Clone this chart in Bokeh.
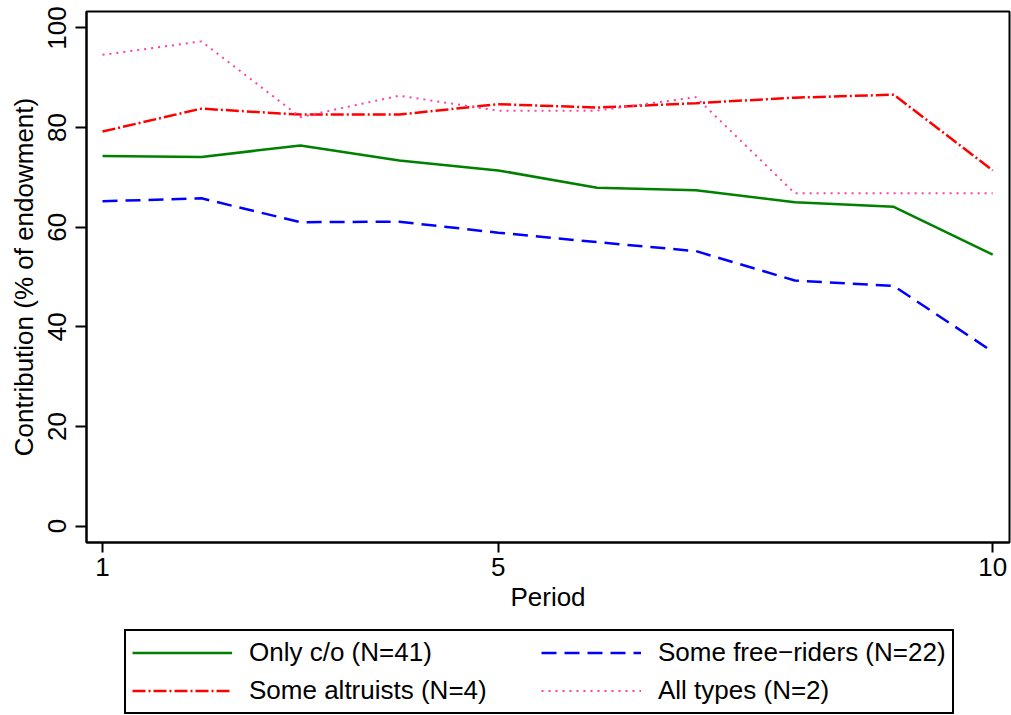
from bokeh.plotting import figure
from bokeh.layouts import column
from bokeh.models import Range1d, FixedTicker, Legend, LegendItem
from bokeh.embed import file_html
from bokeh.resources import INLINE

periods = [1, 2, 3, 4, 5, 6, 7, 8, 9, 10]
only_co = [74.3, 74.1, 76.4, 73.4, 71.4, 67.9, 67.4, 65.0, 64.1, 54.5]
free_riders = [65.2, 65.8, 61.0, 61.1, 58.9, 57.0, 55.2, 49.3, 48.2, 35.0]
altruists = [79.2, 83.8, 82.6, 82.6, 84.7, 84.0, 84.9, 86.0, 86.6, 71.4]
all_types = [94.6, 97.3, 82.1, 86.4, 83.4, 83.4, 86.1, 66.8, 66.8, 66.8]

labels = ["Only c/o (N=41)", "Some altruists (N=4)",
          "Some free\u2212riders (N=22)", "All types (N=2)"]
x_ticks = [1, 5, 10]
y_ticks = [0, 20, 40, 60, 80, 100]

FONT = "Liberation Sans"
FS = "26px"

styles = [
    dict(line_color="#008000", line_width=2.5),
    dict(line_color="#ff0000", line_width=2.5, line_dash="13 3 2 3"),
    dict(line_color="#0000ff", line_width=2.5, line_dash="15 8"),
    dict(line_color="#ff3fa0", line_width=2, line_dash="2 5"),
]
series = [only_co, altruists, free_riders, all_types]

p = figure(width=1011, height=620, output_backend="svg", toolbar_location=None,
           x_range=Range1d(0.838, 10.17), y_range=Range1d(-3.3, 103.3),
           min_border_left=86, min_border_right=2, min_border_top=11,
           min_border_bottom=78)

p.outline_line_color = "black"
p.outline_line_width = 2
p.xgrid.visible = False
p.ygrid.visible = False
p.background_fill_color = "white"
p.border_fill_color = "white"

for ys, st in zip(series, styles):
    p.line(periods, ys, **st)

for ax in (p.xaxis[0], p.yaxis[0]):
    ax.axis_line_color = "black"
    ax.axis_line_width = 2
    ax.major_tick_line_color = "black"
    ax.major_tick_line_width = 2
    ax.major_tick_in = 0
    ax.minor_tick_line_color = None
    ax.major_label_text_font = FONT
    ax.major_label_text_font_size = FS
    ax.major_label_text_color = "black"
    ax.axis_label_text_font = FONT
    ax.axis_label_text_font_size = FS
    ax.axis_label_text_font_style = "normal"
    ax.axis_label_text_color = "black"

p.xaxis.ticker = FixedTicker(ticks=x_ticks)
p.yaxis.ticker = FixedTicker(ticks=y_ticks)
p.xaxis.axis_label = "Period"
p.yaxis.axis_label = "Contribution (% of endowment)"
p.xaxis.major_tick_out = 10
p.yaxis.major_tick_out = 11
p.xaxis.major_label_standoff = 5
p.xaxis.axis_label_standoff = 3
p.yaxis.major_label_orientation = "vertical"
p.yaxis.major_label_standoff = 9
p.yaxis.axis_label_standoff = 7

# legend panel below the chart (its lines lie outside its own view;
# only their legend samples are seen)
q = figure(width=1011, height=95, output_backend="svg", toolbar_location=None,
           x_range=Range1d(-20, -10), y_range=Range1d(-20, -10),
           x_axis_location=None, y_axis_location=None,
           min_border_left=0, min_border_right=0, min_border_top=0,
           min_border_bottom=0)
q.outline_line_color = None
q.xgrid.visible = False
q.ygrid.visible = False
q.border_fill_color = "white"
q.background_fill_color = "white"

leg_r = [q.line(periods, ys, **st) for ys, st in zip(series, styles)]

legend = Legend(items=[LegendItem(label=lab, renderers=[r])
                       for lab, r in zip(labels, leg_r)],
                ncols=2, orientation="vertical", location=(124 - 86, 1))
legend.label_text_font = FONT
legend.label_text_font_size = FS
legend.label_text_color = "black"
legend.glyph_width = 100
legend.glyph_height = 27
legend.label_standoff = 17
legend.label_width = 285
legend.spacing = 7
legend.padding = 6
legend.margin = 0
legend.border_line_color = "black"
legend.border_line_alpha = 1.0
legend.border_line_width = 2
legend.background_fill_color = "white"
legend.background_fill_alpha = 1.0
legend.click_policy = "none"
q.add_layout(legend, "center")

layout = column(p, q, spacing=0)
open("out.html", "w").write(file_html(layout, INLINE))
